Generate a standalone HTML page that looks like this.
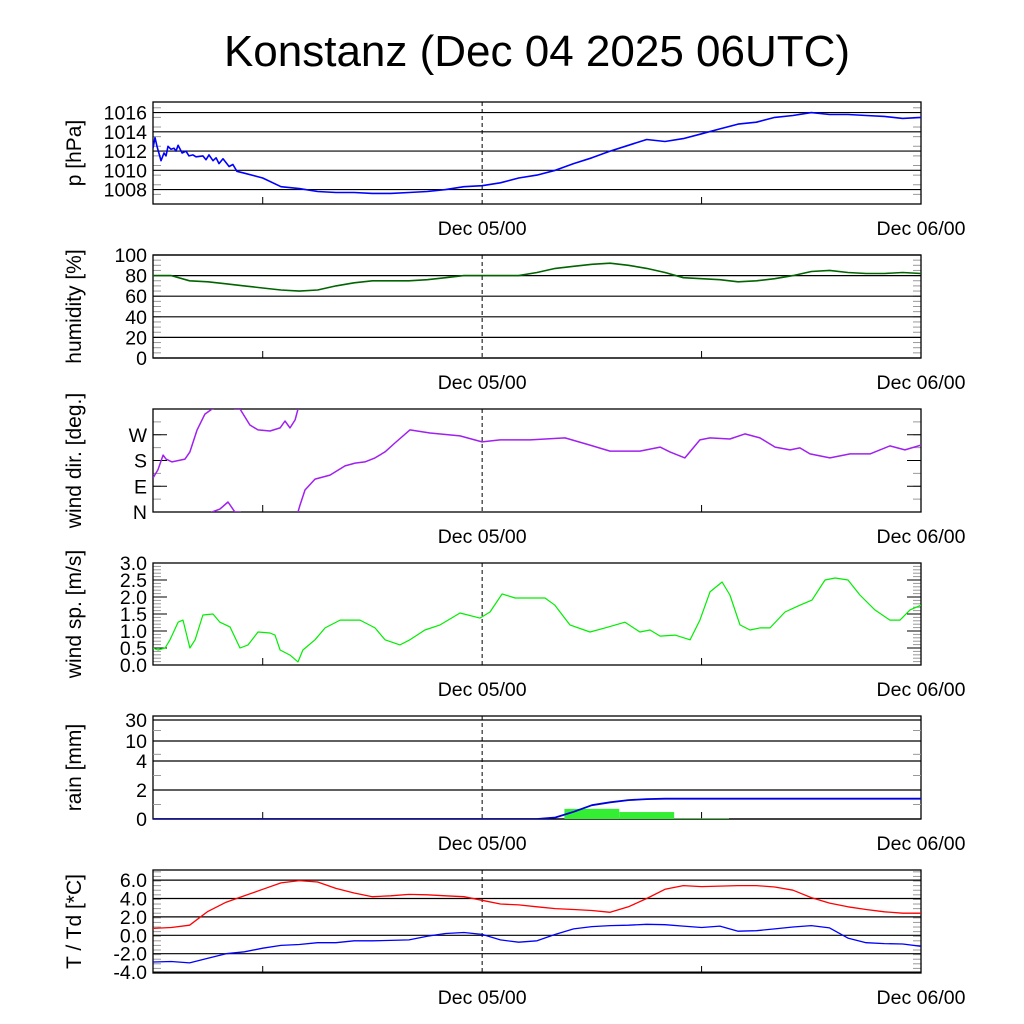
<!DOCTYPE html>
<html><head><meta charset="utf-8">
<style>
html,body{margin:0;padding:0;background:#fff;}
svg{display:block;font-family:"Liberation Sans",sans-serif;}
</style></head>
<body>
<svg id="c" width="1024" height="1024" viewBox="0 0 1024 1024" xmlns="http://www.w3.org/2000/svg">
<text x="537" y="66" font-size="44" text-anchor="middle">Konstanz (Dec 04 2025 06UTC)</text>
</svg>
<script>
// ---- data ----
const hours = [0,1,2,3,4,5,6,7,8,9,10,11,12,13,14,15,16,17,18,19,20,21,22,23,24,25,26,27,28,29,30,31,32,33,34,35,36,37,38,39,40,41,42];
const xTickHours = [18, 42];
const xTickLabels = ["Dec 05/00", "Dec 06/00"];
const xMinorHours = [6, 30];

const presHours = [0,0.11,0.22,0.44,0.6,0.71,0.82,0.98,1.15,1.26,1.37,1.59,1.8,1.97,2.19,2.35,2.73,2.9,3.06,3.28,3.45,3.61,3.83,4.16,4.37,4.59,5,6,7,8,9,10,11,12,13,14,15,16,17,18,19,20,21,22,23,24,25,26,27,28,29,30,31,32,33,34,35,36,37,38,39,40,41,42];
const presVals = [1012.3,1013.4,1012.5,1011,1011.8,1011.5,1012.5,1012.2,1012.3,1012,1012.6,1011.8,1012,1011.5,1011.6,1011.4,1011.5,1011.1,1011.6,1011,1011.3,1010.7,1011.2,1010.4,1010.6,1009.9,1009.7,1009.2,1008.3,1008.1,1007.8,1007.7,1007.7,1007.6,1007.6,1007.7,1007.8,1008,1008.3,1008.4,1008.7,1009.2,1009.5,1010,1010.7,1011.3,1012,1012.6,1013.2,1013,1013.3,1013.8,1014.3,1014.8,1015,1015.5,1015.7,1016,1015.8,1015.8,1015.7,1015.6,1015.4,1015.5];
const presTicks = [1008,1010,1012,1014,1016];

const humVals = [80,80,75,74,72,70,68,66,65,66,70,73,75,75,75,76,78,80,80,80,80,83,87,89,91,92,90,87,83,78,77,76,74,75,77,80,84,85,83,82,82,83,82];
const humTicks = [0,20,40,60,80,100];

const dirHours = [0,0.27,0.55,0.71,1.04,1.75,2.02,2.41,2.84,3.23,3.66,4.10,4.48,4.76,5.30,5.74,6.40,6.95,7.22,7.49,7.77,7.93,8.04,8.31,8.86,9.68,10.50,11.05,11.59,12.14,12.69,13.23,14.05,15.15,16.79,17.99,18.98,20.62,22.53,23.90,24.99,26.63,27.73,28.27,29.09,29.91,30.46,31.55,32.37,33.19,34.02,34.84,35.38,35.93,37.02,38.12,39.21,40.30,41.12,42];
const dirDeg = [-241,-213,-161,-175,-185,-175,-150,-73,-18,0,10,35,0,0,-56,-73,-77,-66,-42,-66,-38,0,24,77,115,129,161,171,175,189,210,241,287,276,266,245,252,252,259,234,213,213,227,210,189,252,259,255,273,259,227,217,224,203,189,203,203,231,217,234];
const dirTickLabels = ["N","E","S","W"];
const dirTickVals = [0,90,180,270];

const spdHours = [0,0.27,0.66,0.93,1.37,1.64,2.02,2.30,2.73,3.28,3.66,4.21,4.76,5.20,5.74,6.40,6.67,6.95,7.49,7.93,8.20,8.86,9.41,10.23,11.32,12.14,12.69,13.51,14.05,14.87,15.70,16.79,17.88,18.43,19.09,19.80,20.62,21.44,21.98,22.80,23.90,24.72,25.81,26.63,27.18,27.73,28.55,29.37,29.91,30.46,31.12,31.55,32.10,32.65,33.19,33.74,34.56,35.38,36.04,36.75,37.30,38.01,38.66,39.48,40.30,40.85,41.40,42];
const spdVals = [0.5,0.44,0.5,0.74,1.26,1.32,0.5,0.74,1.47,1.5,1.26,1.12,0.5,0.59,0.97,0.94,0.88,0.44,0.29,0.09,0.44,0.74,1.09,1.32,1.32,1.09,0.74,0.59,0.74,1.03,1.18,1.53,1.38,1.56,2.09,1.97,1.97,1.97,1.76,1.18,0.97,1.09,1.26,0.97,1.03,0.85,0.88,0.74,1.32,2.15,2.44,2.06,1.18,1.03,1.09,1.09,1.56,1.76,1.91,2.5,2.56,2.5,2.06,1.62,1.32,1.32,1.62,1.76];
const spdTicks = [0,0.5,1,1.5,2,2.5,3];

const rainCum = [0,0,0,0,0,0,0,0,0,0,0,0,0,0,0,0,0,0,0,0,0,0,0.1,0.5,0.95,1.15,1.3,1.37,1.4,1.4,1.4,1.4,1.4,1.4,1.4,1.4,1.4,1.4,1.4,1.4,1.4,1.4,1.4];
const rainBarStart = [22.5,25.5,28.5];
const rainBarAmt = [0.7,0.48,0.04];
const rainBarWidthH = 3;
const rainTicks = [0,2,4,10,30];

const tempVals = [0.75,0.85,1.1,2.6,3.6,4.3,5.0,5.7,5.95,5.8,5.1,4.6,4.2,4.3,4.45,4.4,4.3,4.2,3.8,3.4,3.3,3.1,2.9,2.8,2.7,2.5,3.1,4.0,5.0,5.4,5.3,5.35,5.4,5.4,5.25,4.9,4.1,3.5,3.1,2.8,2.55,2.4,2.4];
const dewVals = [-2.9,-2.85,-3.0,-2.5,-2.0,-1.8,-1.4,-1.1,-1.0,-0.8,-0.8,-0.6,-0.6,-0.55,-0.5,-0.1,0.2,0.3,0.1,-0.5,-0.75,-0.6,0.1,0.7,0.95,1.05,1.1,1.2,1.15,1.0,0.85,1.0,0.45,0.5,0.7,0.9,1.05,0.8,-0.3,-0.8,-0.9,-0.95,-1.2];
const tempTicks = [-4,-2,0,2,4,6];

// ---- drawing ----
const NS = "http://www.w3.org/2000/svg";
const svg = document.getElementById("c");
const X0 = 153, X1 = 921, H = 42;
const xs = h => X0 + (X1 - X0) * h / H;
function el(tag, attrs, parent) {
  const e = document.createElementNS(NS, tag);
  for (const k in attrs) e.setAttribute(k, attrs[k]);
  (parent || svg).appendChild(e);
  return e;
}
let clipId = 0;
function panel(name, top, bot, ymin, ymax, title, ticks, tickLabels, grid, minorStep, yfn) {
  const g = el("g", {});
  
  
  const ys = yfn || (v => bot - (v - ymin) / (ymax - ymin) * (bot - top));
  if (minorStep) {
    for (let v = ymin; v <= ymax + 1e-9; v += minorStep) {
      const y = ys(v);
      el("line", {x1: X0, x2: X0 + 8, y1: y, y2: y, stroke: "#999", "stroke-width": 1}, g);
      el("line", {x1: X1 - 8, x2: X1, y1: y, y2: y, stroke: "#999", "stroke-width": 1}, g);
    }
  }
  ticks.forEach((v, i) => {
    const y = ys(v);
    if (grid) {
      const gl = el("line", {x1: X0, x2: X1, y1: y, y2: y, stroke: "#000", "stroke-width": 1.2}, g);
      
      
    } else {
      el("line", {x1: X0, x2: X0 + 14, y1: y, y2: y, stroke: "#000", "stroke-width": 1}, g);
      el("line", {x1: X1 - 14, x2: X1, y1: y, y2: y, stroke: "#000", "stroke-width": 1}, g);
    }
    const t = el("text", {x: 147, y: y + 7, "font-size": 19.5, "text-anchor": "end"}, g);
    t.textContent = tickLabels[i];
    
    
  });
  xMinorHours.forEach(h => {
    el("line", {x1: xs(h), x2: xs(h), y1: bot, y2: bot - 7, stroke: "#000", "stroke-width": 1}, g);
  });
  const dl = el("line", {x1: xs(18), x2: xs(18), y1: top, y2: bot, stroke: "#000", "stroke-width": 1, "stroke-dasharray": "4,3"}, g);
  
  
  xTickHours.forEach((h, i) => {
    const t = el("text", {x: xs(h), y: bot + 31, "font-size": 19.5, "text-anchor": "middle"}, g);
    t.textContent = xTickLabels[i];
    
    
  });
  const fr = el("rect", {x: X0, y: top, width: X1 - X0, height: bot - top, fill: "none", stroke: "#000", "stroke-width": 1.3}, g);
  
  
  const tt = el("text", {x: 0, y: 0, "font-size": 21, "text-anchor": "middle", transform: `translate(81 ${(top + bot) / 2}) rotate(-90)`}, g);
  tt.textContent = title;
  
  
  const cid = "clip" + (clipId++);
  const cp = el("clipPath", {id: cid}, g);
  el("rect", {x: X0, y: top, width: X1 - X0, height: bot - top}, cp);
  const dg = el("g", {"clip-path": `url(#${cid})`}, g);
  return {g: dg, ys};
}
function line(p, hs, vs, color, name, w, off) {
  const pts = hs.map((h, i) => xs(h).toFixed(1) + "," + p.ys(vs[i] + (off || 0)).toFixed(1)).join(" ");
  const pl = el("polyline", {points: pts, fill: "none", stroke: color, "stroke-width": w || 1.5, "stroke-linejoin": "round"}, p.g);
  
  
  return pl;
}

const pP = panel("pressure", 102, 204, 1006.5, 1017.1, "p [hPa]", presTicks, presTicks.map(String), true, 1);
line(pP, presHours, presVals, "#0000ff", "pressure-line", 1.6);

const pH = panel("humidity", 255, 358, 0, 100, "humidity [%]", humTicks, humTicks.map(String), true, 5);
line(pH, hours, humVals, "#006400", "humidity-line", 1.6);

const pD = panel("wind-dir", 409, 512, 0, 360, "wind dir. [deg.]", dirTickVals, dirTickLabels, false, 45);
line(pD, dirHours, dirDeg, "#a020f0", "wind-dir-line", 1.5, 0);
line(pD, dirHours, dirDeg, "#a020f0", "wind-dir-line-wrapped", 1.5, 360);

const pS = panel("wind-speed", 563, 665, 0, 3, "wind sp. [m/s]", spdTicks, spdTicks.map(v => v.toFixed(1)), false, 0.1);
line(pS, spdHours, spdVals, "#00ee00", "wind-speed-line", 1.2);

function rainY(v) {
  if (v <= 4) return 819 - v * 14.5;
  if (v <= 10) return 761 - (v - 4) / 6 * 20;
  return 741 - (v - 10) / 20 * 21;
}
const pR = panel("rain", 716, 819, 0, 30, "rain [mm]", rainTicks, rainTicks.map(String), true, 0, rainY);
[1, 3, 6, 20].forEach(v => {
  el("line", {x1: X0, x2: X0 + 8, y1: rainY(v), y2: rainY(v), stroke: "#999"}, pR.g);
  el("line", {x1: X1 - 8, x2: X1, y1: rainY(v), y2: rainY(v), stroke: "#999"}, pR.g);
});
rainBarStart.forEach((h, i) => {
  const y = rainY(rainBarAmt[i]);
  const r = el("rect", {x: xs(h), y: y, width: xs(h + rainBarWidthH) - xs(h), height: Math.max(819 - y, 1.5), fill: "#33ee33"}, pR.g);
  
  
});
line(pR, hours, rainCum, "#0000dd", "rain-cumulative-line", 1.8);

const pT = panel("temperature", 870, 973, -4.1, 7.1, "T / Td [*C]", tempTicks, tempTicks.map(v => v.toFixed(1)), true, 0.5);
line(pT, hours, tempVals, "#ff0000", "temperature-line", 1.3);
line(pT, hours, dewVals, "#0000ff", "dewpoint-line", 1.3);
</script>
</body></html>
